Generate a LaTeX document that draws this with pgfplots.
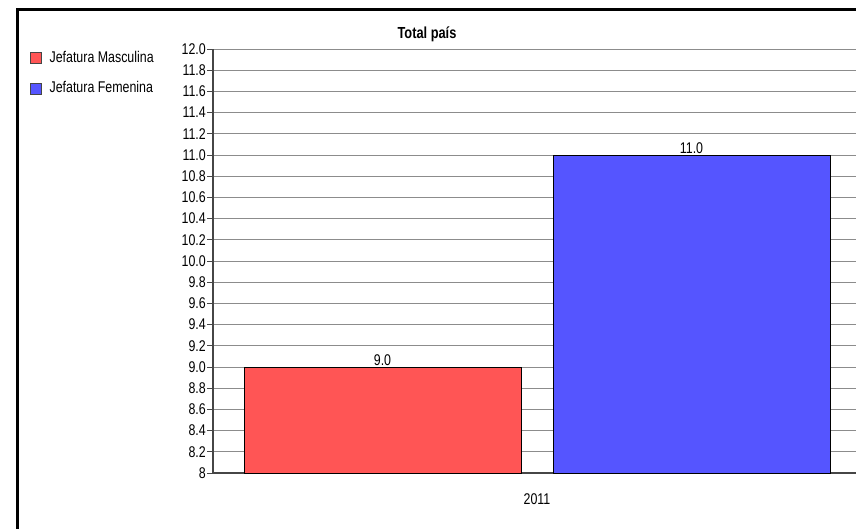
\documentclass[border=0pt]{standalone}
\usepackage{pgfplots}
\pgfplotsset{compat=1.18}
\usepackage{fontspec}
\setmainfont{Liberation Sans}[FakeStretch=0.8]
\definecolor{barred}{RGB}{255,85,85}
\definecolor{barblue}{RGB}{85,85,255}
\definecolor{gridgray}{RGB}{140,140,140}
\definecolor{axisgray}{RGB}{70,70,70}
\newcommand{\lblfont}{\fontsize{15.5}{17}\selectfont}
\begin{document}
\begin{tikzpicture}[x=1pt,y=1pt]
\useasboundingbox (0,0) rectangle (856,528);
\lblfont
\begin{axis}[
  at={(213pt,55pt)}, anchor=south west,
  scale only axis, width=648pt, height=424pt,
  xmin=213, xmax=861, ymin=8, ymax=12,
  ybar, bar width=277,
  axis lines=left, axis line style={-, draw=axisgray, line width=1.2pt},
  xtick={537}, xticklabels={2011},
  x tick style={draw=none},
  xticklabel style={yshift=-9pt},
  ytick={8,8.2,...,12.01},
  yticklabels={8,8.2,8.4,8.6,8.8,9.0,9.2,9.4,9.6,9.8,10.0,10.2,10.4,10.6,10.8,11.0,11.2,11.4,11.6,11.8,12.0},
  yticklabel style={inner xsep=1pt},
  y tick style={draw=axisgray, line width=0.8pt},
  major tick length=6pt, tick align=outside,
  ymajorgrids, grid style={draw=gridgray, line width=0.8pt},
  tick label style={font=\lblfont},
  /pgf/number format/assume math mode=true,
  clip=false,
  nodes near coords={\pgfmathprintnumber[fixed,fixed zerofill,precision=1]{\pgfplotspointmeta}},
  every node near coord/.append style={font=\lblfont, inner sep=1pt},
  legend style={draw=none, fill=none, at={(axis description cs:-0.283,1.0)}, anchor=north west,
    inner sep=0pt, row sep=13pt, font=\lblfont, cells={anchor=west},
    nodes={inner xsep=8pt}},
]
\addplot[fill=barred, draw=black, line width=0.8pt, bar shift=0,
  legend image code/.code={\draw[fill=barred,draw=axisgray,line width=0.8pt] (0pt,-5.5pt) rectangle (11pt,5.5pt);}]
  coordinates {(382.5,9.0)};
\addlegendentry{Jefatura Masculina}
\addplot[fill=barblue, draw=black, line width=0.8pt, bar shift=0,
  legend image code/.code={\draw[fill=barblue,draw=axisgray,line width=0.8pt] (0pt,-5.5pt) rectangle (11pt,5.5pt);}]
  coordinates {(691.5,11.0)};
\addlegendentry{Jefatura Femenina}
\end{axis}
\node[font=\fontsize{16}{18}\selectfont\bfseries] at (427,494) {Total país};
\draw[line width=3pt] (17.5,-10) -- (17.5,518.5) -- (870,518.5);
\end{tikzpicture}
\end{document}
